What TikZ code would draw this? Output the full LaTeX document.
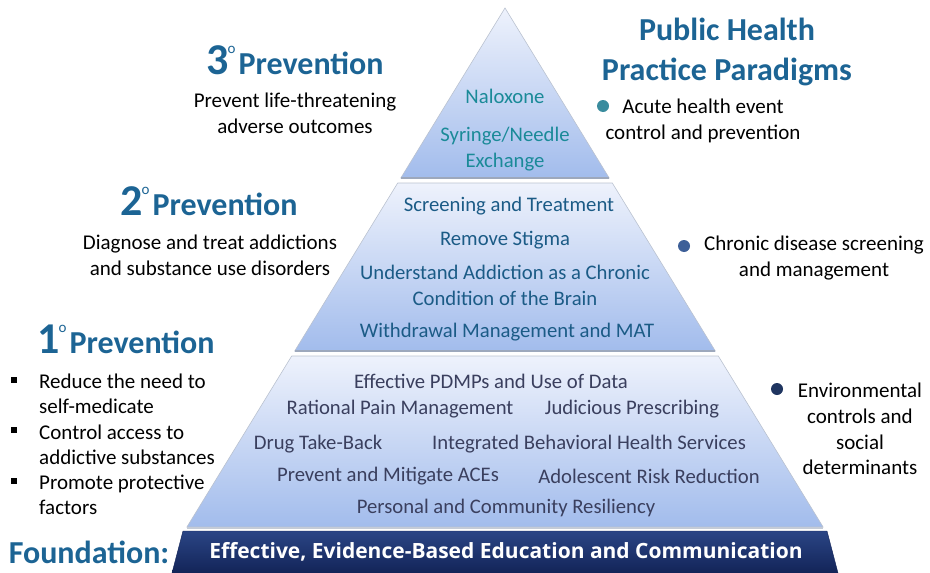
\documentclass[tikz,border=0pt]{standalone}
\usepackage{fontspec}
\setmainfont{Carlito}
\newfontfamily\barfont{Open Sans}
\definecolor{headblue}{HTML}{1C6494}
\definecolor{tealtext}{HTML}{1A8A98}
\definecolor{midtext}{HTML}{1B5B86}
\definecolor{bottext}{HTML}{3A3F5E}
\definecolor{tiertop}{HTML}{EEF2FC}
\definecolor{tierbot}{HTML}{A2BCEC}
\definecolor{tierline}{HTML}{9DA8BC}
\definecolor{navytop}{HTML}{2A4585}
\definecolor{navybot}{HTML}{132458}
\definecolor{dotone}{HTML}{3A8C9E}
\definecolor{dottwo}{HTML}{3D5F98}
\definecolor{dotthree}{HTML}{1F3560}

\newcommand{\degnum}[1]{{\fontsize{44}{44}\selectfont #1}\hspace{-1pt}\raisebox{21pt}{\fontsize{15}{15}\selectfont\mdseries o}\hspace{3pt}}

\begin{document}
\begin{tikzpicture}[x=1pt,y=-1pt,
    tier shade/.style={top color=tiertop,bottom color=tierbot,draw=tierline!70,line width=0.6pt},
    head node/.style={anchor=base,inner sep=0pt,font=\bfseries\fontsize{32}{34}\selectfont,text=headblue},
    side node/.style={inner sep=0pt,align=center,font=\fontsize{21}{26}\selectfont},
    list node/.style={anchor=west,inner sep=0pt,align=left,font=\fontsize{21}{25.3}\selectfont},
    top node/.style={inner sep=0pt,align=center,font=\fontsize{20.7}{26}\selectfont,text=tealtext},
    mid node/.style={inner sep=0pt,align=center,font=\fontsize{20.7}{26}\selectfont,text=midtext},
    low node/.style={inner sep=0pt,font=\fontsize{20.7}{26}\selectfont,text=bottext},
    square node/.style={rectangle,fill=black,inner sep=0pt,minimum size=6pt},
    dot node/.style={circle,inner sep=0pt,minimum size=12pt}]

    \useasboundingbox (0,0) rectangle (930,573);

    % pyramid
    \shade[tier shade] (505,8) -- (609.2,178) -- (400.8,178) -- cycle;
    \shade[tier shade] (397.7,183) -- (612.3,183) -- (715.3,351) -- (294.7,351) -- cycle;
    \shade[tier shade] (291.7,356) -- (718.3,356) -- (823.1,527) -- (186.9,527) -- cycle;
    \draw[tierline,line width=1.5pt] (400.8,178) -- (609.2,178);
    \draw[tierline,line width=1.5pt] (294.7,351) -- (715.3,351);
    \draw[tierline!60,line width=2pt] (186.9,528) -- (823.1,528);
    \shade[top color=navytop,bottom color=navybot,draw=navybot] (183,531) -- (827,531) -- (838,573) -- (172,573) -- cycle;

    \node[top node] (n1) at (505,96) {Naloxone};
    \node[top node] (n2) at (505,149) {Syringe/Needle\\Exchange};

    \node[mid node] (m1) at (509,206) {Screening and Treatment};
    \node[mid node] (m2) at (505,240) {Remove Stigma};
    \node[mid node] (m3) at (505,285) {Understand Addiction as a Chronic\\Condition of the Brain};
    \node[mid node] (m4) at (507,332) {Withdrawal Management and MAT};

    \node[low node] (l1) at (491,381) {Effective PDMPs and Use of Data};
    \node[low node] (l2) at (400,409) {Rational Pain Management};
    \node[low node] (l3) at (632,409) {Judicious Prescribing};
    \node[low node] (l4) at (318,444) {Drug Take-Back};
    \node[low node] (l5) at (589,444) {Integrated Behavioral Health Services};
    \node[low node] (l6) at (388,476) {Prevent and Mitigate ACEs};
    \node[low node] (l7) at (649,476) {Adolescent Risk Reduction};
    \node[low node] (l8) at (506,508) {Personal and Community Resiliency};

    \node[inner sep=0pt,text=white,font=\barfont\bfseries\fontsize{21}{24}\selectfont] (f1) at (506,552) {Effective, Evidence-Based Education and Communication};
    \node[inner sep=0pt,text=headblue,font=\bfseries\fontsize{32}{34}\selectfont] (f0) at (89,552) {Foundation:};

    % left side
    \node[head node] (h3) at (295,74) {\degnum{3}Prevention};
    \node[side node] (b3) at (295,113) {Prevent life-threatening\\adverse outcomes};
    \node[head node] (h2) at (209,215) {\degnum{2}Prevention};
    \node[side node] (b2) at (210,255) {Diagnose and treat addictions\\and substance use disorders};
    \node[head node] (h1) at (126,353) {\degnum{1}Prevention};

    \node[square node] (s1) at (14,380) {};
    \node[square node] (s2) at (14,430) {};
    \node[square node] (s3) at (14,481) {};
    \node[list node] (p1) at (39,394) {Reduce the need to\\self-medicate};
    \node[list node] (p2) at (39,445) {Control access to\\addictive substances};
    \node[list node] (p3) at (39,495) {Promote protective\\factors};

    % right side
    \node[inner sep=0pt,align=center,text=headblue,font=\bfseries\fontsize{32}{40}\selectfont] (ph) at (727,52) {Public Health\\Practice Paradigms};
    \node[dot node,fill=dotone] (d1) at (603,106) {};
    \node[side node] (r1) at (703,121) {Acute health event\\control and prevention};
    \node[dot node,fill=dottwo] (d2) at (684,246) {};
    \node[side node] (r2) at (814,258) {Chronic disease screening\\and management};
    \node[dot node,fill=dotthree] (d3) at (777,389) {};
    \node[side node,font=\fontsize{21}{25.7}\selectfont] (r3) at (860,429) {Environmental\\controls and\\social\\determinants};
\end{tikzpicture}
\end{document}
